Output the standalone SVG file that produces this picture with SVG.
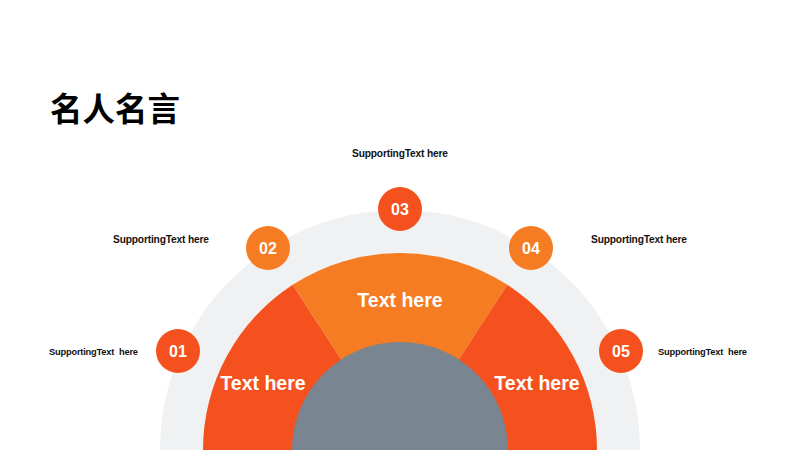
<svg xmlns="http://www.w3.org/2000/svg" width="800" height="450" viewBox="0 0 800 450">
<style>
.sup{font-family:"Liberation Sans",Arial,sans-serif;font-weight:bold;font-size:10.2px;fill:#111}
.sm{font-size:9.3px}
.num{font-family:"Liberation Sans",Arial,sans-serif;font-weight:bold;font-size:16px;fill:#fff;text-anchor:middle}
.big{font-family:"Liberation Sans",Arial,sans-serif;font-weight:bold;font-size:19.5px;fill:#fff;text-anchor:middle}
.red{fill:#F4511E}
.org{fill:#F57C22}
</style>
<rect width="800" height="450" fill="#fff"/>
<text x="50" y="121" font-family="'Noto Sans CJK SC','Noto Sans',sans-serif" font-weight="bold" font-size="32.5" fill="#000">名人名言</text>
<g id="ring"><path d="M160,450 A240,240 0 0 1 640,450 Z" fill="#F0F1F2"/></g>
<g id="seg-left"><path class="red" d="M400,450 L203,450 A197,197 0 0 1 292.7,284.8 Z"/><text class="big" x="263" y="390">Text here</text></g>
<g id="seg-top"><path class="org" d="M400,450 L292.7,284.8 A197,197 0 0 1 507.3,284.8 Z"/><text class="big" x="400" y="307">Text here</text></g>
<g id="seg-right"><path class="red" d="M400,450 L507.3,284.8 A197,197 0 0 1 597,450 Z"/><text class="big" x="537" y="390">Text here</text></g>
<g id="center"><path d="M292,450 A108,108 0 0 1 508,450 Z" fill="#7A8592"/></g>
<g id="c01"><circle class="red" cx="178" cy="351" r="22"/><text class="num" x="178" y="357">01</text></g>
<g id="c02"><circle class="org" cx="268" cy="248" r="22"/><text class="num" x="268" y="254">02</text></g>
<g id="c03"><circle class="red" cx="400" cy="209" r="22"/><text class="num" x="400" y="215">03</text></g>
<g id="c04"><circle class="org" cx="531" cy="248" r="22"/><text class="num" x="531" y="254">04</text></g>
<g id="c05"><circle class="red" cx="621" cy="351" r="22"/><text class="num" x="621" y="357">05</text></g>
<g id="labels">
<text class="sup" x="352" y="156.5" textLength="96" lengthAdjust="spacing">SupportingText here</text>
<text class="sup" x="113" y="242.5" textLength="96" lengthAdjust="spacing">SupportingText here</text>
<text class="sup" x="591" y="242.5" textLength="96" lengthAdjust="spacing">SupportingText here</text>
<text class="sup sm" x="49" y="355" xml:space="preserve" textLength="89" lengthAdjust="spacing">SupportingText  here</text>
<text class="sup sm" x="658" y="355" xml:space="preserve" textLength="89" lengthAdjust="spacing">SupportingText  here</text>
</g>
<g id="connectors"></g>
</svg>
